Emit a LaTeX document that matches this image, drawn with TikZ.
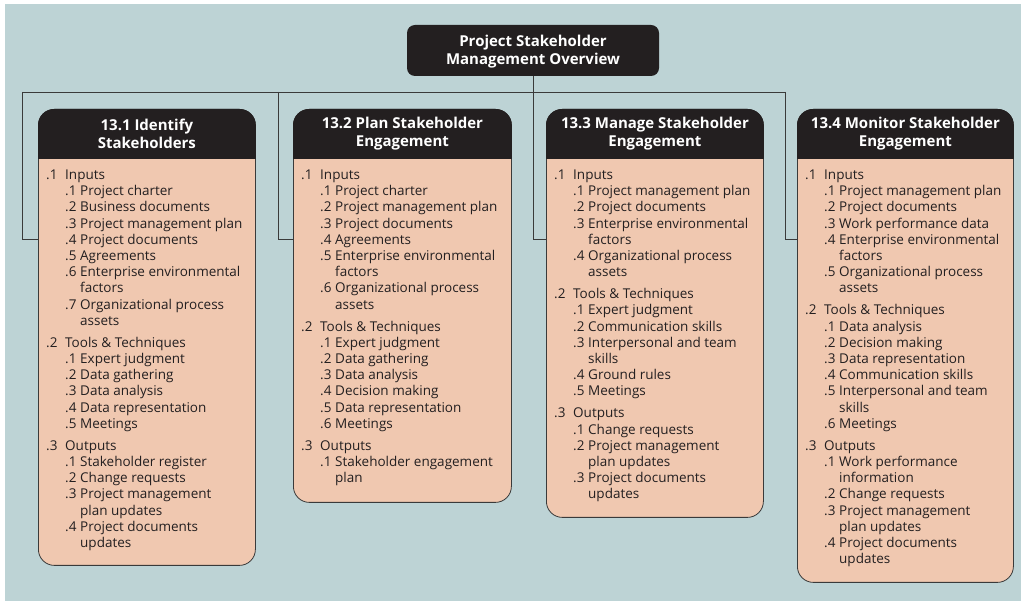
\documentclass[tikz,border=0pt]{standalone}
\usepackage{fontspec}
\setmainfont{Open Sans}
\usepackage{array}
\definecolor{bg}{HTML}{BDD3D5}
\definecolor{salmon}{HTML}{F0C8B0}
\definecolor{hdr}{HTML}{231F20}
\definecolor{edge}{HTML}{3A3A3A}
\newcommand{\grp}[2]{#1 & \multicolumn{2}{@{}l@{}}{#2}\\}
\newcommand{\itm}[2]{& #1 & #2\\}
\newcommand{\cnt}[1]{& & #1\\}
\newcommand{\gap}{\noalign{\vskip 5.8pt}}
\newcommand{\hdrfill}[1]{%
  \begin{scope}
    \clip (#1.north west) rectangle ([yshift=-50pt]#1.north east);
    \fill[hdr, rounded corners=16pt] (#1.north west) rectangle ([yshift=-90pt]#1.north east);
  \end{scope}}
\tikzset{
  frame/.style={draw=edge, line width=0.8pt, fill=salmon, rounded corners=16pt,
    anchor=north west, inner sep=0pt},
  hdrtext/.style={text=white, font=\bfseries\fontsize{15}{18}\selectfont, align=center, inner sep=0pt},
  listtext/.style={anchor=base west, inner sep=0pt, text=hdr, font=\fontsize{13.5}{16.2}\selectfont},
  conn/.style={draw=edge, line width=0.9pt},
  topbox/.style={fill=hdr, rounded corners=8pt, minimum width=252pt, minimum height=51pt,
    inner sep=0pt}
}
\begin{document}
\begin{tikzpicture}[x=1pt,y=-1pt]
\useasboundingbox (0,0) rectangle (1021,601);
\fill[bg] (5,4) rectangle (1021,601);

\node[topbox] (top) at (533,50.5) {};
\node[hdrtext] (toptext) at ([yshift=-1.5pt]top.center) {Project Stakeholder\\Management Overview};

\coordinate (c1) at (22,92);
\coordinate (c2) at (278,92);
\coordinate (c3) at (533,92);
\coordinate (c4) at (785,92);

\node[frame, minimum width=217pt, minimum height=456pt] (b1) at (38,109) {};
\node[frame, minimum width=218pt, minimum height=393pt] (b2) at (293,109) {};
\node[frame, minimum width=217pt, minimum height=408pt] (b3) at (546,109) {};
\node[frame, minimum width=216pt, minimum height=473pt] (b4) at (797,109) {};

\draw[conn] (top.south) -- (c3);
\draw[conn] (c1) -- (c4);
\draw[conn] (c1) |- ([yshift=-130pt]b1.north west);
\draw[conn] (c2) |- ([yshift=-130pt]b2.north west);
\draw[conn] (c3) |- ([yshift=-130pt]b3.north west);
\draw[conn] (c4) |- ([yshift=-130pt]b4.north west);

\hdrfill{b1}
\hdrfill{b2}
\hdrfill{b3}
\hdrfill{b4}

\node[hdrtext] (h1) at ([yshift=-24.5pt]b1.north) {13.1 Identify\\Stakeholders};
\node[hdrtext] (h2) at ([yshift=-24.5pt]b2.north) {13.2 Plan Stakeholder\\Engagement};
\node[hdrtext] (h3) at ([yshift=-24.5pt]b3.north) {13.3 Manage Stakeholder\\Engagement};
\node[hdrtext] (h4) at ([yshift=-24.5pt]b4.north) {13.4 Monitor Stakeholder\\Engagement};

\node[listtext] (l1) at ([xshift=8pt,yshift=-70.5pt]b1.north west) {%
\begin{tabular}[t]{@{}p{19pt}@{}p{15pt}@{}l@{}}
\grp{.1}{Inputs}
\itm{.1}{Project charter}
\itm{.2}{Business documents}
\itm{.3}{Project management plan}
\itm{.4}{Project documents}
\itm{.5}{Agreements}
\itm{.6}{Enterprise environmental}
\cnt{factors}
\itm{.7}{Organizational process}
\cnt{assets}
\gap
\grp{.2}{Tools \& Techniques}
\itm{.1}{Expert judgment}
\itm{.2}{Data gathering}
\itm{.3}{Data analysis}
\itm{.4}{Data representation}
\itm{.5}{Meetings}
\gap
\grp{.3}{Outputs}
\itm{.1}{Stakeholder register}
\itm{.2}{Change requests}
\itm{.3}{Project management}
\cnt{plan updates}
\itm{.4}{Project documents}
\cnt{updates}
\end{tabular}};

\node[listtext] (l2) at ([xshift=8pt,yshift=-70.5pt]b2.north west) {%
\begin{tabular}[t]{@{}p{19pt}@{}p{15pt}@{}l@{}}
\grp{.1}{Inputs}
\itm{.1}{Project charter}
\itm{.2}{Project management plan}
\itm{.3}{Project documents}
\itm{.4}{Agreements}
\itm{.5}{Enterprise environmental}
\cnt{factors}
\itm{.6}{Organizational process}
\cnt{assets}
\gap
\grp{.2}{Tools \& Techniques}
\itm{.1}{Expert judgment}
\itm{.2}{Data gathering}
\itm{.3}{Data analysis}
\itm{.4}{Decision making}
\itm{.5}{Data representation}
\itm{.6}{Meetings}
\gap
\grp{.3}{Outputs}
\itm{.1}{Stakeholder engagement}
\cnt{plan}
\end{tabular}};

\node[listtext] (l3) at ([xshift=8pt,yshift=-70.5pt]b3.north west) {%
\begin{tabular}[t]{@{}p{19pt}@{}p{15pt}@{}l@{}}
\grp{.1}{Inputs}
\itm{.1}{Project management plan}
\itm{.2}{Project documents}
\itm{.3}{Enterprise environmental}
\cnt{factors}
\itm{.4}{Organizational process}
\cnt{assets}
\gap
\grp{.2}{Tools \& Techniques}
\itm{.1}{Expert judgment}
\itm{.2}{Communication skills}
\itm{.3}{Interpersonal and team}
\cnt{skills}
\itm{.4}{Ground rules}
\itm{.5}{Meetings}
\gap
\grp{.3}{Outputs}
\itm{.1}{Change requests}
\itm{.2}{Project management}
\cnt{plan updates}
\itm{.3}{Project documents}
\cnt{updates}
\end{tabular}};

\node[listtext] (l4) at ([xshift=8pt,yshift=-70.5pt]b4.north west) {%
\begin{tabular}[t]{@{}p{19pt}@{}p{15pt}@{}l@{}}
\grp{.1}{Inputs}
\itm{.1}{Project management plan}
\itm{.2}{Project documents}
\itm{.3}{Work performance data}
\itm{.4}{Enterprise environmental}
\cnt{factors}
\itm{.5}{Organizational process}
\cnt{assets}
\gap
\grp{.2}{Tools \& Techniques}
\itm{.1}{Data analysis}
\itm{.2}{Decision making}
\itm{.3}{Data representation}
\itm{.4}{Communication skills}
\itm{.5}{Interpersonal and team}
\cnt{skills}
\itm{.6}{Meetings}
\gap
\grp{.3}{Outputs}
\itm{.1}{Work performance}
\cnt{information}
\itm{.2}{Change requests}
\itm{.3}{Project management}
\cnt{plan updates}
\itm{.4}{Project documents}
\cnt{updates}
\end{tabular}};
\end{tikzpicture}
\end{document}
